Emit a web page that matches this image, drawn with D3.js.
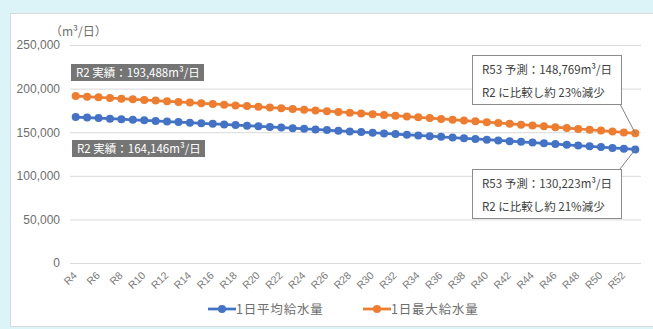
<!DOCTYPE html>
<html><head><meta charset="utf-8">
<script src="https://cdn.jsdelivr.net/npm/d3@7"></script>
<style>
html,body{margin:0;padding:0;background:#dcf3f8;}
svg{display:block;font-family:"Liberation Sans","Noto Sans CJK JP",sans-serif;}
</style></head>
<body>
<svg id="c" width="653" height="329"></svg>
<script>
const categories = ["R4","R5","R6","R7","R8","R9","R10","R11","R12","R13","R14","R15","R16","R17","R18","R19","R20","R21","R22","R23","R24","R25","R26","R27","R28","R29","R30","R31","R32","R33","R34","R35","R36","R37","R38","R39","R40","R41","R42","R43","R44","R45","R46","R47","R48","R49","R50","R51","R52","R53"];
const avgSupply = [167400,166780,166150,165510,164880,164230,163580,162920,162260,161590,160920,160240,159550,158860,158170,157460,156760,156040,155320,154600,153870,153130,152390,151640,150890,150130,149370,148600,147820,147040,146250,145460,144660,143860,143050,142230,141410,140590,139750,138920,138070,137220,136370,135510,134640,133770,132890,132010,131120,130223];
const maxSupply = [191400,190680,189950,189220,188480,187740,186990,186230,185460,184690,183920,183130,182350,181550,180750,179940,179130,178310,177480,176650,175810,174970,174110,173260,172390,171520,170650,169760,168870,167980,167080,166170,165260,164340,163410,162480,161540,160590,159640,158680,157720,156750,155770,154790,153800,152810,151810,150800,149780,148769];
const yTicks = [0,50000,100000,150000,200000,250000];
const xTickLabels = categories.filter((d,i)=>i%2===0);
const seriesNames = ["1日平均給水量","1日最大給水量"];
const unitLabel = "（m³/日）";
const noteR2Max = "R2 実績：193,488m³/日";
const noteR2Avg = "R2 実績：164,146m³/日";
const noteR53Max = ["R53 予測：148,769m³/日","R2 に比較し約 23%減少"];
const noteR53Avg = ["R53 予測：130,223m³/日","R2 に比較し約 21%減少"];

const colors = ["#4472c4","#ed7d31"];
const svg = d3.select("#c");
const jp = '"Noto Sans CJK JP",sans-serif';

// panel
svg.append("rect").attr("x",10.5).attr("y",13.5).attr("width",670).attr("height",313)
  .attr("fill","#fff").attr("stroke","#d9d9d9");

const x = d3.scaleBand().domain(categories).range([70,641]);
const y = d3.scaleLinear().domain([0,250000]).range([263,45]);
const cx = d => x(d)+x.bandwidth()/2;

// y axis + grid
const ya = svg.append("g").attr("transform","translate(70,0)")
  .call(d3.axisLeft(y).tickValues(yTicks).tickSize(-571).tickPadding(10).tickFormat(d3.format(",")));
ya.select(".domain").remove();
ya.selectAll(".tick line").attr("stroke","#d9d9d9");
ya.selectAll(".tick text").attr("fill","#6e6e6e").attr("font-size",12);

// x axis labels
const xa = svg.append("g").attr("transform","translate(0,263)")
  .call(d3.axisBottom(x).tickValues(xTickLabels).tickSize(0));
xa.select(".domain").remove();
xa.selectAll(".tick text").attr("fill","#7a7a7a").attr("font-size",10.5)
  .attr("text-anchor","end").attr("dy",0).attr("y",0)
  .attr("transform","translate(2,13) rotate(-45)");

// unit
svg.append("text").attr("x",50).attr("y",36).attr("font-family",jp).attr("font-size",12)
  .attr("fill","#6e6e6e").text(unitLabel);

// series
[avgSupply,maxSupply].forEach((vals,k)=>{
  const pts = categories.map((c,i)=>[cx(c),y(vals[i])]);
  svg.append("path").attr("d",d3.line()(pts)).attr("fill","none")
    .attr("stroke",colors[k]).attr("stroke-width",2.75);
  svg.append("g").selectAll("circle").data(pts).join("circle")
    .attr("cx",d=>d[0]).attr("cy",d=>d[1]).attr("r",4).attr("fill",colors[k]);
});

// dark notes
function darkNote(x0,y0,w,h,t){
  svg.append("rect").attr("x",x0).attr("y",y0).attr("width",w).attr("height",h).attr("fill","#757575");
  svg.append("text").attr("x",x0+5).attr("y",y0+h/2+4).attr("font-family",jp).attr("font-size",11.5)
    .attr("fill","#fff").text(t);
}
darkNote(71,64,133,17,noteR2Max);
darkNote(72,140,133,17,noteR2Avg);

// callouts
function callout(x0,y0,w,h,lines,lx1,ly1,lx2,ly2){
  svg.append("line").attr("x1",lx1).attr("y1",ly1).attr("x2",lx2).attr("y2",ly2)
    .attr("stroke","#808080").attr("stroke-width",1);
  svg.append("rect").attr("x",x0+0.5).attr("y",y0+0.5).attr("width",w).attr("height",h)
    .attr("fill","#fff").attr("stroke","#8c8c8c");
  lines.forEach((t,i)=>svg.append("text").attr("x",x0+10).attr("y",y0+19+i*22.5)
    .attr("font-family",jp).attr("font-size",11.5).attr("fill","#404040").text(t));
}
const lastC = categories[categories.length-1];
callout(472,55,149,49,noteR53Max,620,104,cx(lastC),y(maxSupply[maxSupply.length-1]));
callout(472,169,149,49,noteR53Avg,620,169,cx(lastC),y(avgSupply[avgSupply.length-1]));

// legend
const leg = [[208,seriesNames[0]],[363,seriesNames[1]]];
leg.forEach(([lx,name],k)=>{
  const g = svg.append("g").attr("transform",`translate(${lx},309)`);
  g.append("line").attr("x1",0).attr("x2",28).attr("stroke",colors[k]).attr("stroke-width",2.75);
  g.append("circle").attr("cx",14).attr("r",4).attr("fill",colors[k]);
  g.append("text").attr("x",28).attr("y",4.5).attr("font-family",jp).attr("font-size",12.5)
    .attr("letter-spacing",0.8).attr("fill","#6e6e6e").text(name);
});
</script>
</body></html>
